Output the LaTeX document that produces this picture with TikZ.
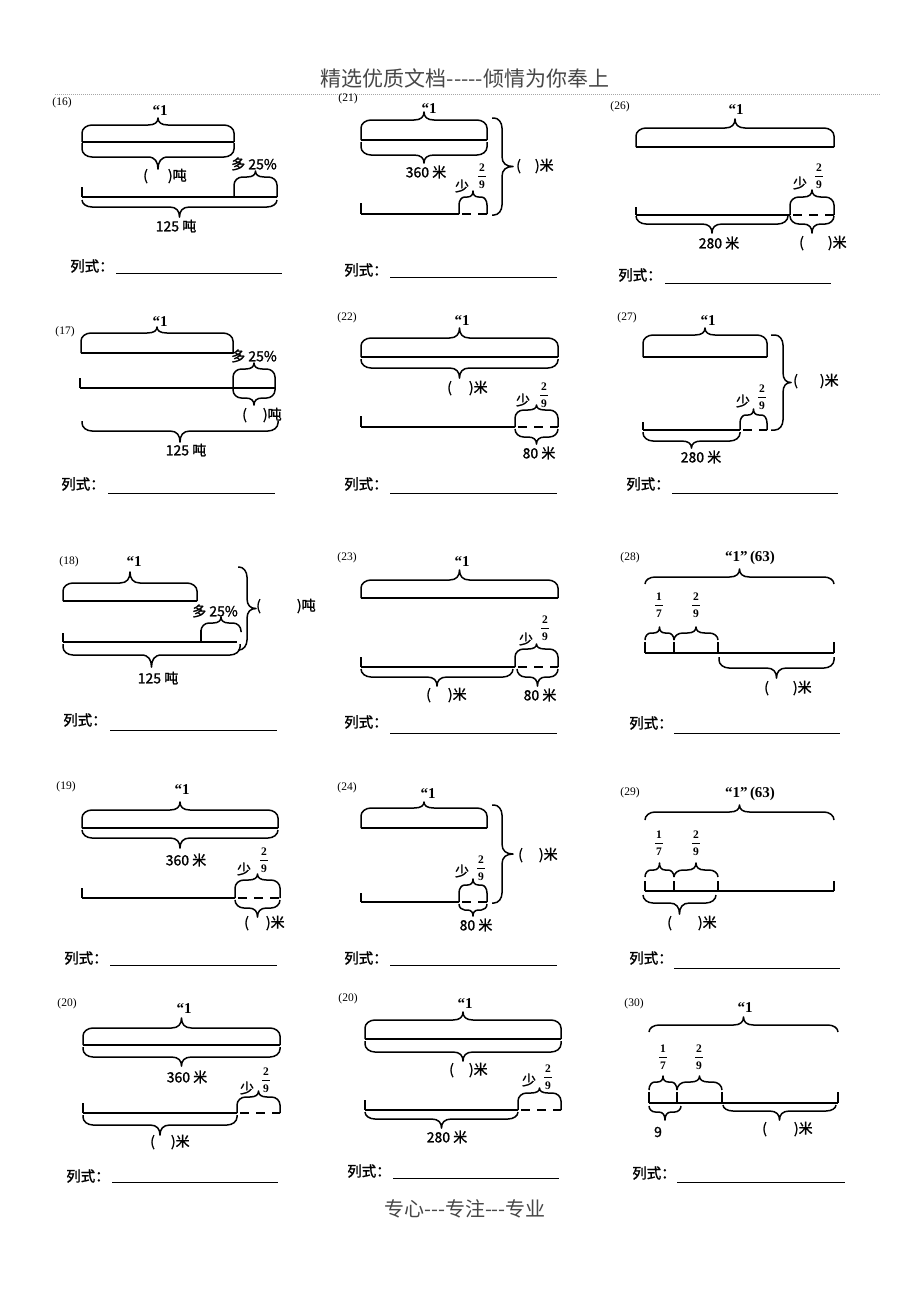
\documentclass[tikz,border=0pt]{standalone}
\usepackage{fontspec}
\setmainfont{Liberation Serif}
\newfontfamily\hei{Noto Sans CJK SC}
\newfontfamily\heib{Noto Sans CJK SC}[FakeBold=1.4]
\tikzset{
 bar/.style={line width=1.7pt},
 brc/.style={line width=1.5pt, line join=round},
 dsh/.style={line width=1.7pt, dash pattern=on 9pt off 7pt, dash phase=13pt},
 tk/.style={line width=1.6pt},
 lbl/.style={font=\heib\fontsize{14}{14}\selectfont, inner sep=0pt},
 lst/.style={font=\heib\fontsize{14.5}{15}\selectfont, inner sep=0pt},
 pn/.style={font=\fontsize{11.5}{12}\selectfont, inner sep=0pt},
 q1/.style={font=\bfseries\fontsize{15}{15}\selectfont, inner sep=0pt},
 fr/.style={font=\bfseries\fontsize{11.5}{12}\selectfont, inner sep=0pt},
 fl/.style={line width=0.5pt},
 ul/.style={line width=0.8pt},
}
% horizontal brace: x1 x2 y0(leg start) yh(horizontal) yt(tip)
\newcommand\hb[5]{%
 \pgfmathsetmacro\bxm{(#1+#2)/2}%
 \pgfmathsetmacro\bs{(#4>#3)?1:-1}%
 \pgfmathsetmacro\brv{min(8,abs(#4-#3))}%
 \pgfmathsetmacro\brh{min(10,(#2-#1)/5)}%
 \pgfmathsetmacro\btt{min(10,(#2-#1)/5)}%
 \pgfmathsetmacro\byl{#4-(\bs)*(\brv)}%
 \pgfmathsetmacro\bya{#4-(\bs)*(\brv)*0.45}%
 \pgfmathsetmacro\byt{#4+(\bs)*abs(#5-#4)*0.4}%
 \draw[brc] (#1,#3) -- (#1,\byl) .. controls (#1,\bya) and ({#1+\brh*0.45},#4) .. ({#1+\brh},#4) -- ({\bxm-\btt},#4) .. controls ({\bxm-\btt*0.3},#4) and (\bxm,\byt) .. (\bxm,#5) .. controls (\bxm,\byt) and ({\bxm+\btt*0.3},#4) .. ({\bxm+\btt},#4) -- ({#2-\brh},#4) .. controls ({#2-\brh*0.45},#4) and (#2,\bya) .. (#2,\byl) -- (#2,#3);}
% vertical brace: y1 y2 x0 xh xt
\newcommand\vb[5]{%
 \pgfmathsetmacro\bym{(#1+#2)/2}%
 \pgfmathsetmacro\bs{(#4>#3)?1:-1}%
 \pgfmathsetmacro\brv{min(8,abs(#4-#3))}%
 \pgfmathsetmacro\brh{min(10,(#2-#1)/5)}%
 \pgfmathsetmacro\btt{min(10,(#2-#1)/5)}%
 \pgfmathsetmacro\bxl{#4-(\bs)*(\brv)}%
 \pgfmathsetmacro\bxa{#4-(\bs)*(\brv)*0.45}%
 \pgfmathsetmacro\bxt{#4+(\bs)*abs(#5-#4)*0.4}%
 \draw[brc] (#3,#1) -- (\bxl,#1) .. controls (\bxa,#1) and (#4,{#1+\brh*0.45}) .. (#4,{#1+\brh}) -- (#4,{\bym-\btt}) .. controls (#4,{\bym-\btt*0.3}) and (\bxt,\bym) .. (#5,\bym) .. controls (\bxt,\bym) and (#4,{\bym+\btt*0.3}) .. (#4,{\bym+\btt}) -- (#4,{#2-\brh}) .. controls (#4,{#2-\brh*0.45}) and (\bxa,#2) .. (\bxl,#2) -- (#3,#2);}
% fraction: x yline num den
\newcommand\frc[4]{%
 \node[fr] at (#1,{#2-8}) {#3};
 \draw[fl] ({#1-4},#2) -- ({#1+4},#2);
 \node[fr] at (#1,{#2+9}) {#4};}
% 列式 line: x y ulx1 ulx2 uly
\newcommand\ls[5]{%
 \node[lst] at (#1,#2) {列式：};
 \draw[ul] (#3,#5) -- (#4,#5);}
\begin{document}
\begin{tikzpicture}[x=1pt,y=-1pt]
\fill[white] (0,0) rectangle (920,1302);
\useasboundingbox (0,0) rectangle (920,1302);
% header and footer
\node[font=\hei\fontsize{21}{21}\selectfont, text=black!72, inner sep=0pt] (hd) at (465,78) {精选优质文档-----倾情为你奉上};
\draw[gray!70, line width=0.8pt, dash pattern=on 1pt off 1pt] (55,94) -- (880,94);
\node[font=\hei\fontsize{20}{20}\selectfont, text=black!72, inner sep=0pt] (ft) at (465,1209) {专心---专注---专业};

% ---------- (16)
\node[pn] at (62,103) {(16)};
\node[q1] at (160,111) {“1};
\draw[bar] (82,142) -- (234,142);
\hb{82}{234}{142}{125}{118}
\hb{82}{234}{143}{157}{169}
\node[lbl,anchor=west] at (143,176) {(\hspace{20pt})吨};
\node[lbl] at (254,164) {多 25\%};
\hb{234}{277}{197}{177}{171}
\draw[bar] (82,197) -- (277,197);
\draw[tk] (82,187) -- (82,197);
\hb{82}{277}{200}{207}{217}
\node[lbl] at (176,226) {125 吨};
\ls{92}{266}{116}{282}{273}

% ---------- (21)
\node[pn] at (348,99) {(21)};
\node[q1] at (429,109) {“1};
\draw[bar] (361,140) -- (487,140);
\hb{361}{487}{140}{120}{112}
\hb{361}{487}{142}{155}{163}
\node[lbl] at (426,172) {360 米};
\node[lbl] at (462,186) {少};
\frc{482}{176}{2}{9}
\hb{459}{487}{214}{197}{191}
\draw[bar] (361,214) -- (459,214);
\draw[dsh] (459,214) -- (487,214);
\draw[tk] (361,203) -- (361,214);
\vb{118}{215}{492}{502}{513}
\node[lbl,anchor=west] at (516,166) {(\hspace{14pt})米};
\ls{366}{270}{390}{557}{277}

% ---------- (26)
\node[pn] at (620,107) {(26)};
\node[q1] at (736,110) {“1};
\draw[bar] (636,147) -- (834,147);
\hb{636}{834}{147}{128}{119}
\node[lbl] at (800,183) {少};
\frc{819}{176}{2}{9}
\hb{790}{834}{215}{197}{190}
\draw[bar] (636,215) -- (790,215);
\draw[dsh] (790,215) -- (834,215);
\draw[tk] (636,207) -- (636,215);
\hb{636}{788}{216}{224}{233}
\hb{790}{834}{216}{224}{233}
\node[lbl] at (719,243) {280 米};
\node[lbl,anchor=west] at (799,243) {(\hspace{24pt})米};
\ls{640}{275}{665}{831}{283}

% ---------- (17)
\node[pn] at (65,332) {(17)};
\node[q1] at (160,322) {“1};
\draw[bar] (81,353) -- (233,353);
\hb{81}{233}{353}{333}{327}
\node[lbl] at (254,356) {多 25\%};
\hb{233}{275}{388}{369}{363}
\hb{233}{275}{388}{398}{405}
\draw[bar] (80,388) -- (275,388);
\draw[tk] (80,378) -- (80,388);
\node[lbl,anchor=west] at (242,415) {(\hspace{16pt})吨};
\hb{82}{278}{421}{431}{442}
\node[lbl] at (186,450) {125 吨};
\ls{83}{484}{108}{275}{493}

% ---------- (22)
\node[pn] at (347,318) {(22)};
\node[q1] at (462,321) {“1};
\draw[bar] (361,357) -- (558,357);
\hb{361}{558}{357}{338}{328}
\hb{361}{558}{359}{368}{378}
\node[lbl,anchor=west] at (447,388) {(\hspace{17pt})米};
\node[lbl] at (523,400) {少};
\frc{544}{395}{2}{9}
\hb{515}{558}{427}{410}{405}
\draw[bar] (361,427) -- (515,427);
\draw[dsh] (515,427) -- (558,427);
\draw[tk] (361,416) -- (361,427);
\hb{515}{558}{429}{437}{444}
\node[lbl] at (539,453) {80 米};
\ls{366}{484}{390}{557}{493}

% ---------- (27)
\node[pn] at (627,318) {(27)};
\node[q1] at (708,321) {“1};
\draw[bar] (643,357) -- (767,357);
\hb{643}{767}{357}{335}{328}
\node[lbl] at (743,401) {少};
\frc{762}{397}{2}{9}
\hb{740}{767}{430}{415}{409}
\draw[bar] (643,430) -- (740,430);
\draw[dsh] (740,430) -- (767,430);
\draw[tk] (643,422) -- (643,430);
\hb{643}{740}{432}{441}{448}
\node[lbl] at (701,457) {280 米};
\vb{335}{430}{771}{783}{791}
\node[lbl,anchor=west] at (793,381) {(\hspace{22pt})米};
\ls{648}{484}{672}{838}{493}

% ---------- (18)
\node[pn] at (69,562) {(18)};
\node[q1] at (134,562) {“1};
\draw[bar] (63,601) -- (197,601);
\hb{63}{197}{601}{583}{572}
\node[lbl] at (215,611) {多 25\%};
\hb{201}{241}{632}{623}{617}
\draw[tk] (201,630) -- (201,642);
\draw[bar] (63,642) -- (237,642);
\draw[tk] (63,633) -- (63,642);
\hb{63}{240}{644}{655}{667}
\node[lbl] at (158,678) {125 吨};
\vb{567}{650}{238}{247}{256}
\node[lbl,anchor=west] at (256,606) {(\hspace{36pt})吨};
\ls{85}{720}{110}{277}{730}

% ---------- (23)
\node[pn] at (347,558) {(23)};
\node[q1] at (462,562) {“1};
\draw[bar] (361,598) -- (558,598);
\hb{361}{558}{598}{580}{570}
\node[lbl] at (526,639) {少};
\frc{545}{628}{2}{9}
\hb{515}{558}{667}{649}{644}
\draw[bar] (361,667) -- (515,667);
\draw[dsh] (515,667) -- (558,667);
\draw[tk] (361,657) -- (361,667);
\hb{361}{513}{669}{677}{686}
\hb{517}{558}{669}{677}{686}
\node[lbl,anchor=west] at (426,695) {(\hspace{17pt})米};
\node[lbl] at (540,695) {80 米};
\ls{366}{722}{390}{557}{733}

% ---------- (28)
\node[pn] at (630,558) {(28)};
\node[q1] at (750,558) {“1”\,(63)};
\hb{645}{834}{584}{577}{569}
\frc{659}{605}{1}{7}
\frc{696}{605}{2}{9}
\hb{645}{674}{640}{633}{627}
\hb{674}{718}{640}{633}{627}
\draw[bar] (645,653) -- (834,653);
\foreach \xx in {645,674,718,834} \draw[tk] (\xx,642) -- (\xx,653);
\hb{719}{834}{657}{668}{678}
\node[lbl,anchor=west] at (764,688) {(\hspace{24pt})米};
\ls{651}{723}{674}{840}{733}

% ---------- (19)
\node[pn] at (66,787) {(19)};
\node[q1] at (182,790) {“1};
\draw[bar] (82,828) -- (278,828);
\hb{82}{278}{828}{810}{802}
\hb{82}{278}{830}{838}{848}
\node[lbl] at (186,860) {360 米};
\node[lbl] at (244,869) {少};
\frc{264}{860}{2}{9}
\hb{235}{280}{898}{880}{874}
\draw[bar] (82,898) -- (235,898);
\draw[dsh] (235,898) -- (280,898);
\draw[tk] (82,888) -- (82,898);
\hb{235}{280}{900}{908}{917}
\node[lbl,anchor=west] at (244,923) {(\hspace{17pt})米};
\ls{86}{958}{110}{277}{965}

% ---------- (24)
\node[pn] at (347,788) {(24)};
\node[q1] at (428,794) {“1};
\draw[bar] (361,828) -- (487,828);
\hb{361}{487}{828}{808}{802}
\node[lbl] at (462,871) {少};
\frc{481}{868}{2}{9}
\hb{459}{487}{902}{885}{879}
\draw[bar] (361,902) -- (459,902);
\draw[dsh] (459,902) -- (487,902);
\draw[tk] (361,893) -- (361,902);
\hb{459}{487}{904}{910}{916}
\node[lbl] at (476,925) {80 米};
\vb{805}{903}{492}{502}{513}
\node[lbl,anchor=west] at (518,855) {(\hspace{16pt})米};
\ls{366}{958}{390}{557}{965}

% ---------- (29)
\node[pn] at (630,793) {(29)};
\node[q1] at (750,794) {“1”\,(63)};
\hb{645}{834}{820}{812}{805}
\frc{659}{843}{1}{7}
\frc{696}{843}{2}{9}
\hb{645}{674}{877}{870}{863}
\hb{674}{718}{877}{870}{863}
\draw[bar] (645,891) -- (834,891);
\foreach \xx in {645,674,718,834} \draw[tk] (\xx,881) -- (\xx,891);
\hb{643}{716}{895}{903}{914}
\node[lbl,anchor=west] at (667,923) {(\hspace{26pt})米};
\ls{651}{958}{674}{840}{968}

% ---------- (20) left
\node[pn] at (67,1004) {(20)};
\node[q1] at (184,1008) {“1};
\draw[bar] (83,1045) -- (280,1045);
\hb{83}{280}{1045}{1028}{1018}
\hb{83}{280}{1047}{1057}{1066}
\node[lbl] at (187,1077) {360 米};
\node[lbl] at (247,1088) {少};
\frc{266}{1080}{2}{9}
\hb{237}{280}{1113}{1097}{1091}
\draw[bar] (83,1113) -- (237,1113);
\draw[dsh] (237,1113) -- (280,1113);
\draw[tk] (83,1103) -- (83,1113);
\hb{83}{237}{1115}{1125}{1135}
\node[lbl,anchor=west] at (150,1142) {(\hspace{16pt})米};
\ls{88}{1176}{112}{278}{1182}

% ---------- (20) middle
\node[pn] at (348,999) {(20)};
\node[q1] at (465,1003) {“1};
\draw[bar] (365,1039) -- (561,1039);
\hb{365}{561}{1039}{1020}{1012}
\hb{365}{561}{1041}{1052}{1061}
\node[lbl,anchor=west] at (449,1070) {(\hspace{15pt})米};
\node[lbl] at (529,1080) {少};
\frc{548}{1077}{2}{9}
\hb{518}{561}{1110}{1093}{1088}
\draw[bar] (365,1110) -- (518,1110);
\draw[dsh] (518,1110) -- (561,1110);
\draw[tk] (365,1100) -- (365,1110);
\hb{365}{518}{1112}{1119}{1128}
\node[lbl] at (447,1137) {280 米};
\ls{369}{1171}{393}{559}{1178}

% ---------- (30)
\node[pn] at (634,1004) {(30)};
\node[q1] at (745,1007) {“1};
\hb{649}{838}{1032}{1025}{1017}
\frc{663}{1057}{1}{7}
\frc{699}{1057}{2}{9}
\hb{649}{677}{1090}{1082}{1076}
\hb{677}{722}{1090}{1082}{1076}
\draw[bar] (649,1103) -- (838,1103);
\foreach \xx in {649,677,722,838} \draw[tk] (\xx,1092) -- (\xx,1103);
\hb{649}{681}{1106}{1112}{1120}
\node[lbl] at (658,1132) {9};
\hb{723}{836}{1105}{1111}{1120}
\node[lbl,anchor=west] at (762,1129) {(\hspace{27pt})米};
\ls{654}{1173}{677}{845}{1182}
\end{tikzpicture}
\end{document}
